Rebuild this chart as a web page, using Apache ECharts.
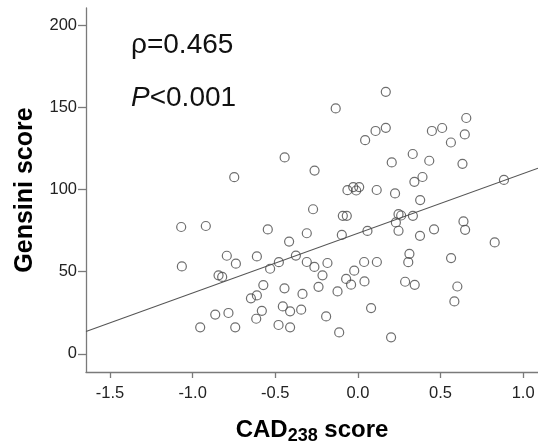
<!DOCTYPE html>
<html>
<head>
<meta charset="utf-8">
<script src="https://cdn.jsdelivr.net/npm/echarts@6/dist/echarts.min.js"></script>
<style>
  html, body { margin: 0; padding: 0; background: #fff; }
  #chart { width: 538px; height: 443px; }
</style>
</head>
<body>
<div id="chart"></div>
<script>
// CAD238 score per patient
const cadScore = [
  -0.748, -0.443, 0.169, -0.134, 0.169, 0.107, 0.044, 0.205, -0.262, -0.063,
  -0.028, -0.010, 0.008, 0.114, 0.225, -0.271, -0.091, -0.067, 0.656, 0.510,
  0.448, 0.647, 0.563, 0.332, 0.432, 0.633, 0.391, 0.342, 0.884, 0.377,
  0.246, 0.262, 0.333, 0.639, 0.649, 0.828, 0.461, 0.376, 0.246, 0.230,
  0.312, 0.305, 0.564, 0.286, 0.344, 0.602, 0.584, 0.201, -0.545, -0.309,
  -0.097, 0.058, -0.416, -0.375, -0.478, -0.531, -0.309, -0.263, -0.184, -0.214,
  -0.238, -0.335, -0.572, -0.444, -0.454, -0.410, -0.343, -0.581, -0.480, -0.410,
  -0.192, -0.113, -0.123, -0.071, -0.041, -0.022, 0.038, 0.115, 0.040, 0.080,
  -1.069, -0.920, -1.065, -0.793, -0.738, -0.611, -0.843, -0.821, -0.647, -0.611,
  -0.863, -0.783, -0.615, -0.954, -0.742
];
// Gensini score per patient (same order)
const gensiniScore = [
  107.5, 119.5, 159.4, 149.3, 137.5, 135.6, 130.0, 116.5, 111.5, 99.6,
  101.5, 99.4, 101.5, 99.7, 97.6, 88.0, 84.0, 84.0, 143.5, 137.4,
  135.6, 133.5, 128.6, 121.6, 117.5, 115.6, 107.6, 104.7, 105.8, 93.6,
  85.0, 84.2, 84.0, 80.6, 75.5, 67.8, 75.8, 71.8, 74.9, 80.0,
  60.9, 55.8, 58.3, 43.9, 42.0, 41.0, 31.9, 10.1, 75.7, 73.4,
  72.4, 74.8, 68.3, 59.8, 55.8, 51.8, 55.9, 52.9, 55.3, 47.8,
  40.8, 36.5, 41.9, 39.9, 28.9, 25.9, 26.9, 26.2, 17.6, 16.2,
  22.8, 13.1, 38.0, 45.6, 42.1, 50.6, 55.9, 55.9, 44.1, 27.9,
  77.2, 77.8, 53.2, 59.7, 54.9, 59.3, 47.8, 46.8, 33.8, 35.6,
  23.9, 24.9, 21.4, 16.2, 16.2
];

// Axis ranges and tick labels
const xRange = [-1.645, 1.09];
const yRange = [-11, 210.4];
const xTicks = [-1.5, -1.0, -0.5, 0.0, 0.5, 1.0];
const yTicks = [0, 50, 100, 150, 200];

// Least-squares fit line: Gensini = intercept + slope * CAD238
const fitIntercept = 73.4;
const fitSlope = 36.3;

// Correlation annotation
const rhoText = 'ρ=0.465';
const pText = '<0.001';

const FONT = '"Liberation Sans", Arial, Helvetica, sans-serif';
const AXIS_COLOR = '#7a7a7a';

const points = cadScore.map((x, i) => [x, gensiniScore[i]]);
const fitLine = xRange.map(x => [x, fitIntercept + fitSlope * x]);

const chart = echarts.init(document.getElementById('chart'), null, { renderer: 'canvas' });

chart.setOption({
  animation: false,
  backgroundColor: '#ffffff',
  grid: { left: 86, top: 8, right: 0, bottom: 71, containLabel: false, outerBoundsMode: 'none' },
  xAxis: {
    type: 'value',
    min: xRange[0],
    max: xRange[1],
    name: '{b|CAD}{s|238}{b| score}',
    nameLocation: 'middle',
    nameGap: 43,
    nameTextStyle: {
      rich: {
        b: { fontFamily: FONT, fontSize: 24, fontWeight: 'bold', color: '#000' },
        s: { fontFamily: FONT, fontSize: 18, fontWeight: 'bold', color: '#000', padding: [12, 0, 0, 0] }
      }
    },
    splitLine: { show: false },
    axisLine: { show: true, onZero: false, lineStyle: { color: AXIS_COLOR, width: 1.3 } },
    axisTick: { show: true, length: 6, customValues: xTicks, lineStyle: { color: AXIS_COLOR, width: 1.3 } },
    axisLabel: {
      customValues: xTicks,
      formatter: v => v.toFixed(1),
      fontFamily: FONT,
      fontSize: 16.5,
      color: '#222',
      margin: 13
    }
  },
  yAxis: {
    type: 'value',
    min: yRange[0],
    max: yRange[1],
    name: 'Gensini score',
    nameLocation: 'middle',
    nameRotate: 90,
    nameGap: 48,
    nameTextStyle: { fontFamily: FONT, fontSize: 25, fontWeight: 'bold', color: '#000' },
    splitLine: { show: false },
    axisLine: { show: true, onZero: false, lineStyle: { color: AXIS_COLOR, width: 1.3 } },
    axisTick: { show: true, length: 8, customValues: yTicks, lineStyle: { color: AXIS_COLOR, width: 1.3 } },
    axisLabel: {
      customValues: yTicks,
      fontFamily: FONT,
      fontSize: 16.5,
      color: '#222',
      margin: 9
    }
  },
  graphic: [
    {
      type: 'text',
      left: 131,
      top: 31,
      style: { text: rhoText, font: '28px ' + FONT, fill: '#111' }
    },
    {
      type: 'text',
      left: 131,
      top: 84,
      style: {
        text: '{i|P}{n|' + pText + '}',
        rich: {
          i: { fontFamily: FONT, fontSize: 28, fontStyle: 'italic', fill: '#111', color: '#111' },
          n: { fontFamily: FONT, fontSize: 28, fill: '#111', color: '#111' }
        }
      }
    }
  ],
  series: [
    {
      type: 'line',
      data: fitLine,
      showSymbol: false,
      silent: true,
      lineStyle: { color: '#555', width: 1.1 },
      z: 1
    },
    {
      type: 'scatter',
      data: points,
      symbol: 'circle',
      symbolSize: 9,
      itemStyle: { color: 'rgba(255,255,255,0)', borderColor: '#4a4a4a', borderWidth: 1.2 },
      z: 2
    }
  ]
});
</script>
</body>
</html>
